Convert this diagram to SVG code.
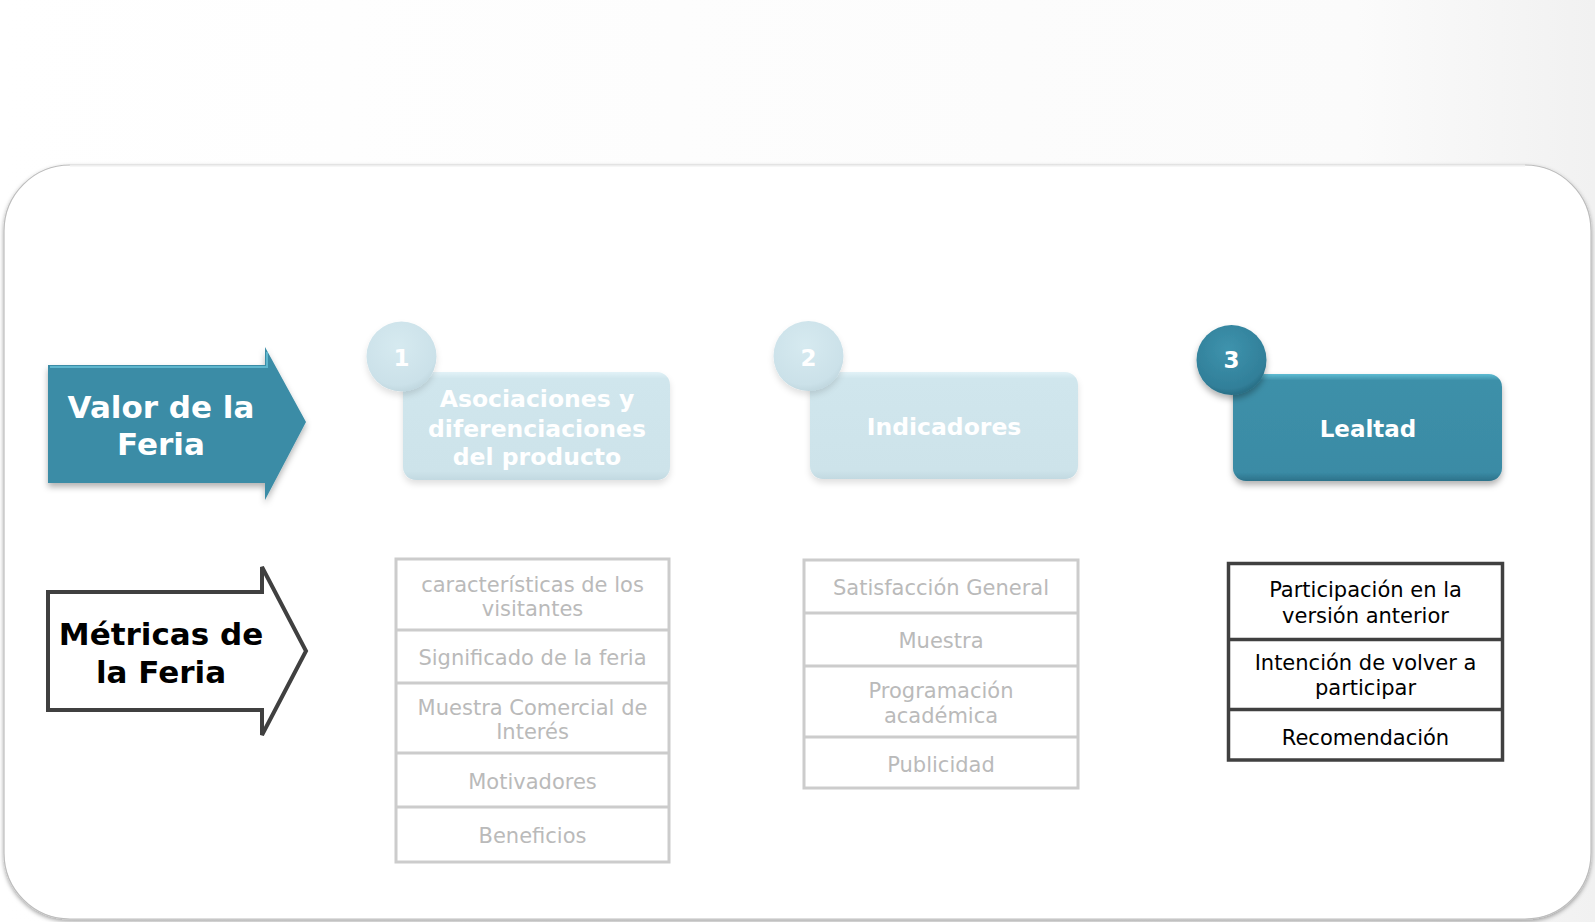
<svg xmlns="http://www.w3.org/2000/svg" width="1595" height="922" viewBox="0 0 1595 922">
<defs>
<linearGradient id="bg" x1="0" y1="0" x2="1" y2="0">
<stop offset="0" stop-color="#ffffff"/><stop offset="0.85" stop-color="#fbfbfb"/><stop offset="1" stop-color="#f1f1f1"/>
</linearGradient>
<linearGradient id="teal" x1="0" y1="0" x2="0" y2="1">
<stop offset="0" stop-color="#5fbcd3"/><stop offset="0.06" stop-color="#3d90a9"/><stop offset="0.92" stop-color="#3a8ba5"/><stop offset="1" stop-color="#2d728a"/>
</linearGradient>
<linearGradient id="light" x1="0" y1="0" x2="0" y2="1">
<stop offset="0" stop-color="#e2f2f7"/><stop offset="0.06" stop-color="#d0e6ed"/><stop offset="0.92" stop-color="#cde3ea"/><stop offset="1" stop-color="#c2d9e1"/>
</linearGradient>
<radialGradient id="tealc" cx="0.45" cy="0.35" r="0.7">
<stop offset="0" stop-color="#3e93ad"/><stop offset="0.8" stop-color="#317f99"/><stop offset="1" stop-color="#246479"/>
</radialGradient>
<radialGradient id="lightc" cx="0.45" cy="0.35" r="0.7">
<stop offset="0" stop-color="#d6eaf0"/><stop offset="0.8" stop-color="#cbe1e9"/><stop offset="1" stop-color="#bcd3db"/>
</radialGradient>
<filter id="sh" x="-20%" y="-20%" width="140%" height="150%">
<feDropShadow dx="0" dy="4" stdDeviation="3" flood-color="#000" flood-opacity="0.3"/>
</filter>
<filter id="shl" x="-20%" y="-20%" width="140%" height="150%">
<feDropShadow dx="0" dy="4" stdDeviation="3" flood-color="#000" flood-opacity="0.12"/>
</filter>
<filter id="psh" x="-5%" y="-5%" width="110%" height="110%">
<feDropShadow dx="0" dy="2" stdDeviation="2" flood-color="#000" flood-opacity="0.35"/>
</filter>
<style>
.hd{font-family:"DejaVu Sans",Verdana,sans-serif;font-weight:bold;text-anchor:middle;fill:#ffffff}
.cell{font-family:"DejaVu Sans",Verdana,sans-serif;font-size:21px;text-anchor:middle}
.g{fill:#bababa}
.k{fill:#000000}
.gbox{fill:#ffffff;stroke:#cccccc;stroke-width:3}
.kbox{fill:#ffffff;stroke:#404040;stroke-width:3.5}
</style>
</defs>
<rect x="0" y="0" width="1595" height="922" fill="url(#bg)"/>
<g id="panel">
<rect x="4" y="165" width="1587" height="754" rx="66" ry="66" fill="#ffffff" stroke="#bdbdbd" stroke-width="1.2" filter="url(#psh)"/>
<path d="M70,165.5 L1525,165.5" stroke="#eeeeee" stroke-width="2"/>
</g>
<g id="valor">
<path d="M48,365 L265,365 L265,347 L306,422 L265,500 L265,483 L48,483 Z" fill="#3a8ca6" filter="url(#sh)"/>
<path d="M50,367 L267,367 L267,352" fill="none" stroke="#5fb6cd" stroke-width="2"/>
<text class="hd" font-size="31" x="161" y="418">Valor de la</text>
<text class="hd" font-size="31" x="161" y="455">Feria</text>
</g>
<g id="metricas">
<path d="M48,592 L262,592 L262,567 L306,651 L262,735 L262,710 L48,710 Z" fill="#ffffff" stroke="#404040" stroke-width="4" stroke-linejoin="miter"/>
<text class="hd" font-size="31" x="161" y="645" style="fill:#000">Métricas de</text>
<text class="hd" font-size="31" x="161" y="683" style="fill:#000">la Feria</text>
</g>
<g id="step1">
<rect x="403" y="372" width="267" height="108" rx="13" fill="url(#light)" filter="url(#shl)"/>
<circle cx="401.5" cy="356.5" r="35" fill="url(#lightc)" filter="url(#shl)"/>
<text class="hd" font-size="23" x="401.5" y="366">1</text>
<text class="hd" font-size="23.5" x="537" y="407">Asociaciones y</text>
<text class="hd" font-size="23.5" x="537" y="436.5">diferenciaciones</text>
<text class="hd" font-size="23.5" x="537" y="465">del producto</text>
</g>
<g id="step2">
<rect x="810" y="372" width="268" height="107" rx="13" fill="url(#light)" filter="url(#shl)"/>
<circle cx="808.5" cy="356" r="35" fill="url(#lightc)" filter="url(#shl)"/>
<text class="hd" font-size="23" x="808.5" y="366">2</text>
<text class="hd" font-size="23.5" x="944" y="435">Indicadores</text>
</g>
<g id="step3">
<rect x="1233" y="374" width="269" height="107" rx="13" fill="url(#teal)" filter="url(#sh)"/>
<circle cx="1231.5" cy="360" r="35" fill="url(#tealc)" filter="url(#sh)"/>
<text class="hd" font-size="23" x="1231.5" y="368">3</text>
<text class="hd" font-size="23" x="1368" y="437">Lealtad</text>
</g>
<g id="list1">
<rect class="gbox" x="396" y="559" width="273" height="303"/>
<path d="M396,630 H669 M396,683 H669 M396,753 H669 M396,807 H669" stroke="#cccccc" stroke-width="3"/>
<text class="cell g" x="532.5" y="592">características de los</text>
<text class="cell g" x="532.5" y="616">visitantes</text>
<text class="cell g" x="532.5" y="665">Significado de la feria</text>
<text class="cell g" x="532.5" y="715">Muestra Comercial de</text>
<text class="cell g" x="532.5" y="739">Interés</text>
<text class="cell g" x="532.5" y="789">Motivadores</text>
<text class="cell g" x="532.5" y="843">Beneficios</text>
</g>
<g id="list2">
<rect class="gbox" x="804" y="560" width="274" height="228"/>
<path d="M804,613 H1078 M804,666 H1078 M804,737 H1078" stroke="#cccccc" stroke-width="3"/>
<text class="cell g" x="941" y="595">Satisfacción General</text>
<text class="cell g" x="941" y="648">Muestra</text>
<text class="cell g" x="941" y="698">Programación</text>
<text class="cell g" x="941" y="723">académica</text>
<text class="cell g" x="941" y="772">Publicidad</text>
</g>
<g id="list3">
<rect class="kbox" x="1228.5" y="563.5" width="274" height="196.5"/>
<path d="M1228.5,639.5 H1502.5 M1228.5,709.5 H1502.5" stroke="#404040" stroke-width="3.5"/>
<text class="cell k" x="1365.5" y="597">Participación en la</text>
<text class="cell k" x="1365.5" y="623">versión anterior</text>
<text class="cell k" x="1365.5" y="670">Intención de volver a</text>
<text class="cell k" x="1365.5" y="695">participar</text>
<text class="cell k" x="1365.5" y="745">Recomendación</text>
</g>
<g id="connectors"></g>
</svg>
